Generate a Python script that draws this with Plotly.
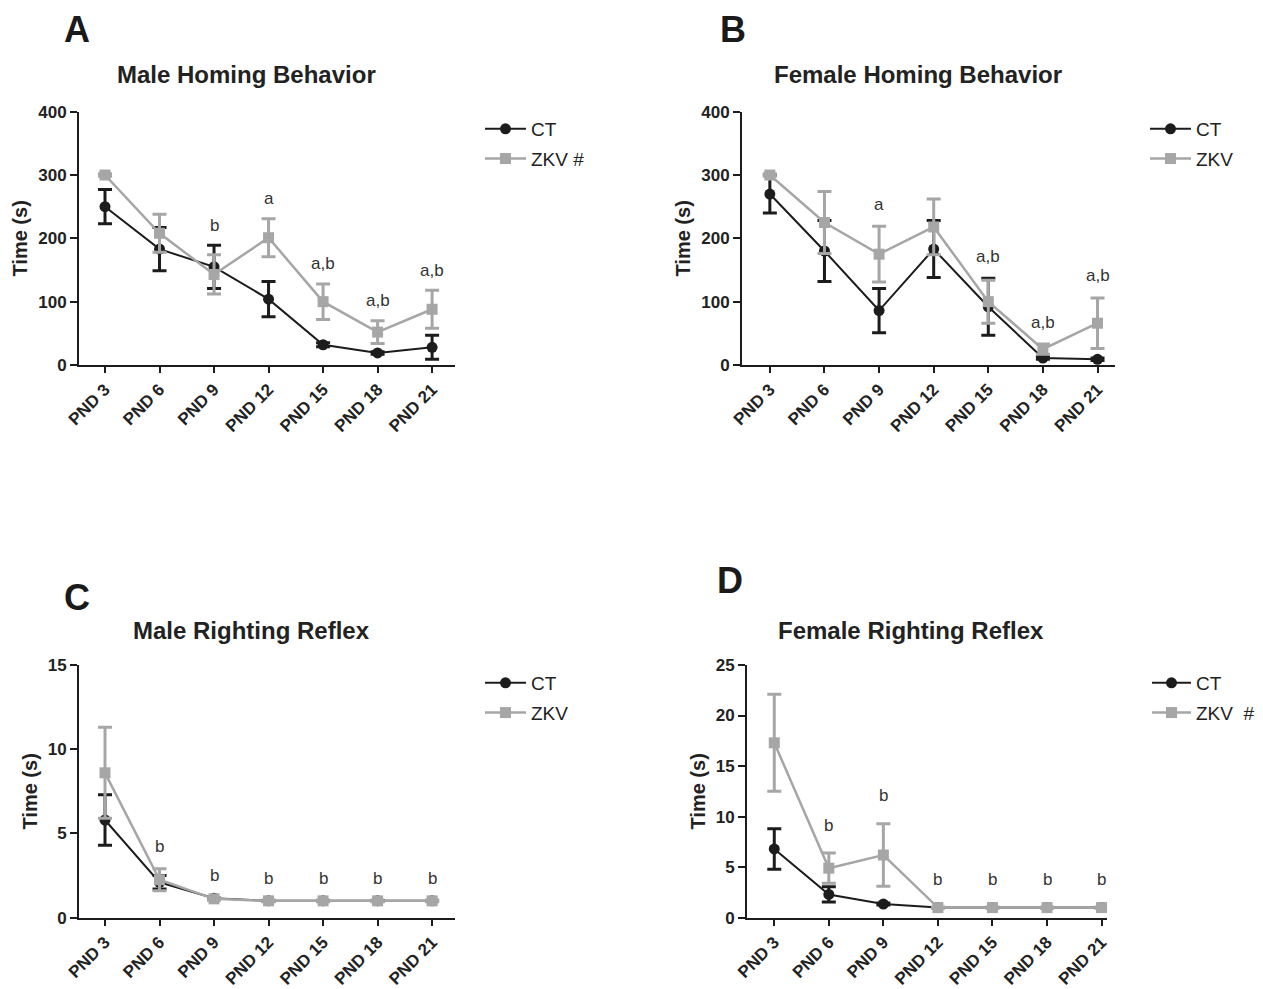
import plotly.graph_objects as go

W, H = 1263, 989
PAGE_OFFSET = 8  # the page body margin that shifts the figure in the window

CATS = ["PND 3", "PND 6", "PND 9", "PND 12", "PND 15", "PND 18", "PND 21"]

# Panel A - Male Homing Behavior
A_CT = [250, 183, 155, 104, 32, 19, 28]
A_CT_ERR = [27, 34, 34, 28, 3, 2, 19]
A_ZKV = [300, 208, 143, 201, 100, 52, 88]
A_ZKV_ERR = [2, 30, 31, 30, 28, 18, 30]
A_SIG = ["", "", "b", "a", "a,b", "a,b", "a,b"]

# Panel B - Female Homing Behavior
B_CT = [270, 180, 86, 183, 92, 11, 9]
B_CT_ERR = [30, 48, 35, 45, 45, 2, 2]
B_ZKV = [300, 225, 175, 218, 100, 25, 66]
B_ZKV_ERR = [2, 49, 44, 44, 34, 8, 40]
B_SIG = ["", "", "a", "", "a,b", "a,b", "a,b"]

# Panel C - Male Righting Reflex
C_CT = [5.8, 2.1, 1.15, 1.0, 1.0, 1.0, 1.0]
C_CT_ERR = [1.5, 0.4, 0.05, 0.02, 0.02, 0.02, 0.02]
C_ZKV = [8.6, 2.25, 1.12, 1.0, 1.0, 1.0, 1.0]
C_ZKV_ERR = [2.7, 0.65, 0.08, 0.05, 0.05, 0.05, 0.05]
C_SIG = ["", "b", "b", "b", "b", "b", "b"]

# Panel D - Female Righting Reflex
D_CT = [6.8, 2.3, 1.35, 1.0, 1.0, 1.0, 1.0]
D_CT_ERR = [2.0, 0.75, 0.1, 0.02, 0.02, 0.02, 0.02]
D_ZKV = [17.3, 4.9, 6.2, 1.0, 1.0, 1.0, 1.0]
D_ZKV_ERR = [4.8, 1.5, 3.1, 0.05, 0.05, 0.05, 0.05]
D_SIG = ["", "b", "b", "b", "b", "b", "b"]

BLACK = "#1c1c1c"
GREY = "#a6a6a6"
FONT = "Liberation Sans, Arial, sans-serif"


def fx(p):
    return (p - PAGE_OFFSET) / W


def fy(p):
    return 1 - (p - PAGE_OFFSET) / H


panels = [
    dict(ct=A_CT, cte=A_CT_ERR, zk=A_ZKV, zke=A_ZKV_ERR, sig=A_SIG, zname="ZKV #",
         ymax=400, dtick=100, xdom=(79, 455), ydom=(111.7, 365), xr=(-0.477, 6.42),
         leg=(480, 110), title="Male Homing Behavior", tpos=(246, 75),
         letter="A", lpos=(77, 29.5), shift=20),
    dict(ct=B_CT, cte=B_CT_ERR, zk=B_ZKV, zke=B_ZKV_ERR, sig=B_SIG, zname="ZKV",
         ymax=400, dtick=100, xdom=(742, 1115), ydom=(111.7, 365), xr=(-0.51, 6.32),
         leg=(1145, 110), title="Female Homing Behavior", tpos=(918, 75),
         letter="B", lpos=(733, 29.5), shift=22),
    dict(ct=C_CT, cte=C_CT_ERR, zk=C_ZKV, zke=C_ZKV_ERR, sig=C_SIG, zname="ZKV",
         ymax=15, dtick=5, xdom=(79, 455), ydom=(665, 917.7), xr=(-0.477, 6.42),
         leg=(480, 664), title="Male Righting Reflex", tpos=(252, 630),
         letter="C", lpos=(77, 597), shift=22),
    dict(ct=D_CT, cte=D_CT_ERR, zk=D_ZKV, zke=D_ZKV_ERR, sig=D_SIG, zname="ZKV\u00a0\u00a0#",
         ymax=25, dtick=5, xdom=(747, 1107), ydom=(665, 917.7), xr=(-0.5, 6.1),
         leg=(1147, 664), title="Female Righting Reflex", tpos=(911, 630),
         letter="D", lpos=(730, 580), shift=28),
]

fig = go.Figure()
annotations = []
layout = dict(
    width=W, height=H, margin=dict(l=0, r=0, t=0, b=0, autoexpand=False),
    paper_bgcolor="white", plot_bgcolor="white",
    font=dict(family=FONT, color=BLACK),
)

for i, p in enumerate(panels):
    n = "" if i == 0 else str(i + 1)
    xa, ya = "x" + n, "y" + n
    legname = "legend" + n
    fig.add_trace(go.Scatter(
        x=CATS, y=p["ct"], name="CT", mode="lines+markers",
        xaxis=xa, yaxis=ya, legend=legname, legendgroup="ct" + n,
        line=dict(color=BLACK, width=2),
        marker=dict(symbol="circle", size=11, color=BLACK),
        error_y=dict(type="data", array=p["cte"], symmetric=True, color=BLACK,
                     thickness=3, width=7),
        cliponaxis=False,
    ))
    fig.add_trace(go.Scatter(
        x=CATS, y=p["zk"], name=p["zname"], mode="lines+markers",
        xaxis=xa, yaxis=ya, legend=legname, legendgroup="zk" + n,
        line=dict(color=GREY, width=2.5),
        marker=dict(symbol="square", size=11, color=GREY),
        error_y=dict(type="data", array=p["zke"], symmetric=True, color=GREY,
                     thickness=3, width=7),
        cliponaxis=False,
    ))
    layout["xaxis" + n] = dict(
        domain=[fx(p["xdom"][0]), fx(p["xdom"][1])], anchor=ya, automargin=False,
        range=list(p["xr"]), type="category",
        showline=True, linewidth=2, linecolor=BLACK, showgrid=False, zeroline=False,
        ticks="outside", ticklen=6, tickwidth=2, tickcolor=BLACK, tickangle=-45,
        tickfont=dict(family=FONT, size=17, color="#222", weight="bold"),
    )
    layout["yaxis" + n] = dict(
        domain=[fy(p["ydom"][1]), fy(p["ydom"][0])], anchor=xa, automargin=False,
        range=[0, p["ymax"]], dtick=p["dtick"],
        showline=True, linewidth=2, linecolor=BLACK, showgrid=False, zeroline=False,
        ticks="outside", ticklen=7, tickwidth=2, tickcolor=BLACK,
        tickfont=dict(family=FONT, size=17, color="#222", weight="bold"),
        title=dict(text="Time (s)", standoff=5,
                   font=dict(family=FONT, size=20, color="#222", weight="bold")),
    )
    layout[legname] = dict(
        x=fx(p["leg"][0]), y=fy(p["leg"][1]), xanchor="left", yanchor="top",
        xref="paper", yref="paper", bgcolor="rgba(0,0,0,0)", borderwidth=0,
        traceorder="grouped", tracegroupgap=2,
        itemwidth=39 if i == 3 else 41,
        font=dict(family=FONT, size=19, color="#222"),
    )
    # significance letters above the highest error bar
    for j, lab in enumerate(p["sig"]):
        if not lab:
            continue
        top = max(p["ct"][j] + p["cte"][j], p["zk"][j] + p["zke"][j])
        annotations.append(dict(
            x=CATS[j], y=top, xref=xa, yref=ya, text=lab, showarrow=False,
            yanchor="middle", xanchor="center", yshift=p["shift"],
            font=dict(family=FONT, size=17, color="#333"),
        ))
    annotations.append(dict(
        x=fx(p["tpos"][0]), y=fy(p["tpos"][1]), xref="paper", yref="paper",
        text=p["title"], showarrow=False, xanchor="center", yanchor="middle",
        font=dict(family=FONT, size=24, color="#222", weight="bold"),
    ))
    annotations.append(dict(
        x=fx(p["lpos"][0]), y=fy(p["lpos"][1]), xref="paper", yref="paper",
        text=p["letter"], showarrow=False, xanchor="center", yanchor="middle",
        font=dict(family=FONT, size=36, color="#1a1a1a", weight="bold"),
    ))

layout["annotations"] = annotations
fig.update_layout(**layout)
fig.write_html("out.html")
